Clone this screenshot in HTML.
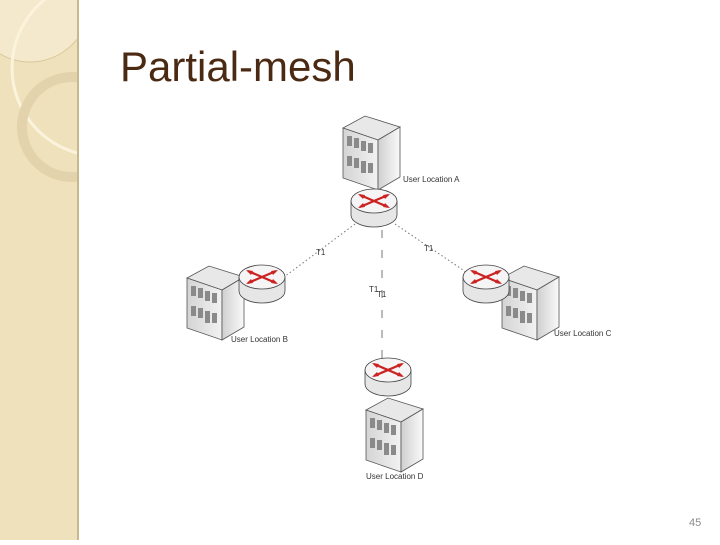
<!DOCTYPE html>
<html><head><meta charset="utf-8"><style>
html,body{margin:0;padding:0;background:#fff;}
body{width:720px;height:540px;position:relative;overflow:hidden;font-family:"Liberation Sans",sans-serif;}
.side{position:absolute;left:0;top:0;width:77px;height:540px;background:#efe1bb;border-right:2px solid #c9b88e;}
h1{position:absolute;left:120px;top:43px;margin:0;font-weight:normal;font-size:42px;color:#4a2a12;}
.pn{position:absolute;left:689px;top:517px;font-size:11px;color:#8a8a8a;}
</style></head><body>
<div class="side">
<svg width="77" height="540">
<circle cx="30" cy="2" r="60" fill="#f4e9cc" stroke="#d9c89c" stroke-width="1"/>
<circle cx="100" cy="68" r="88" fill="none" stroke="#fbf3dc" stroke-width="3"/>
<circle cx="72" cy="127" r="50" fill="none" stroke="#e2d3ac" stroke-width="10"/>
</svg>
</div>
<h1>Partial-mesh</h1>
<svg width="720" height="540" style="position:absolute;left:0;top:0">
<defs>
<linearGradient id="fr" x1="0" x2="1"><stop offset="0" stop-color="#d4d4d4"/><stop offset="1" stop-color="#f2f2f2"/></linearGradient>
<linearGradient id="sd" x1="0" x2="1"><stop offset="0" stop-color="#cfcfcf"/><stop offset="1" stop-color="#fafafa"/></linearGradient>
<g id="bld">
<polygon points="0,12 22,0 57,11 35,24" fill="#e8e8e8" stroke="#555" stroke-width="0.8"/>
<polygon points="0,12 35,24 35,74 0,62" fill="url(#fr)" stroke="#555" stroke-width="0.8"/>
<polygon points="35,24 57,11 57,61 35,74" fill="url(#sd)" stroke="#555" stroke-width="0.8"/>
<g fill="#8a8a8a">
<rect x="4" y="20" width="5" height="10"/><rect x="11" y="22" width="5" height="10"/><rect x="18" y="25" width="5" height="10"/><rect x="25" y="27" width="5" height="10"/>
<rect x="4" y="40" width="5" height="10"/><rect x="11" y="42" width="5" height="10"/><rect x="18" y="45" width="5" height="12"/><rect x="25" y="47" width="5" height="10"/>
</g>
</g>
<g id="rtr">
<path d="M-23,0 L-23,14 A23,12 0 0 0 23,14 L23,0 Z" fill="#e6e6e6" stroke="#444" stroke-width="0.8"/>
<ellipse cx="0" cy="0" rx="23" ry="12" fill="#f5f5f5" stroke="#444" stroke-width="0.8"/>
<g stroke="#cc2222" stroke-width="2.2">
<line x1="-14" y1="-6" x2="14" y2="6"/><line x1="-14" y1="6" x2="14" y2="-6"/>
</g>
<g fill="#cc2222">
<polygon points="-16,-7 -9,-6 -11,-2"/><polygon points="16,7 9,6 11,2"/>
<polygon points="-16,7 -9,6 -11,2"/><polygon points="16,-7 9,-6 11,-2"/>
</g>
</g>
</defs>
<g stroke="#777" stroke-width="1" fill="none">
<line x1="355" y1="224" x2="280" y2="280" stroke-dasharray="1.5,2.5"/>
<line x1="395" y1="224" x2="466" y2="272" stroke-dasharray="1.5,2.5"/>
<line x1="382" y1="230" x2="382" y2="360" stroke-dasharray="8,12"/>
</g>
<use href="#bld" x="343" y="116"/>
<use href="#rtr" x="374" y="201"/>
<use href="#bld" x="187" y="266"/>
<use href="#rtr" x="262" y="277"/>
<use href="#bld" x="502" y="266"/>
<use href="#rtr" x="486" y="277"/>
<use href="#rtr" x="388" y="370"/>
<use href="#bld" x="366" y="398"/>
<g font-family="Liberation Sans, sans-serif" font-size="8" fill="#333">
<text x="403" y="182">User Location A</text>
<text x="231" y="342">User Location B</text>
<text x="554" y="336">User Location C</text>
<text x="366" y="479">User Location D</text>
<text x="316" y="255">T1</text>
<text x="424" y="251">T1</text>
<text x="369" y="292">T1</text>
<text x="377" y="297">T1</text>
</g>
</svg>
<div class="pn">45</div>
</body></html>
